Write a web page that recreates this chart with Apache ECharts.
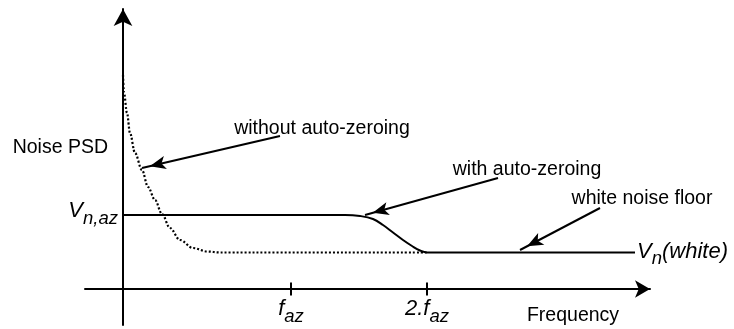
<!DOCTYPE html>
<html>
<head>
<meta charset="utf-8">
<script src="https://cdn.jsdelivr.net/npm/echarts@6/dist/echarts.min.js"></script>
<style>
html,body{margin:0;padding:0;background:#fff;}
#c{width:734px;height:329px;}
</style>
</head>
<body>
<div id="c"></div>
<script>
// ---- data (x: frequency, arbitrary units; y: noise PSD, arbitrary units) ----
const withoutX = [0, 1, 4, 7, 12, 19, 25, 32, 39, 47, 57, 70, 84, 97, 304];
const withoutY = [214, 196, 176, 156, 136, 119, 102, 89, 75, 61, 49, 41, 37.5, 36.5, 36.5];
const withX = [0, 222, 237, 250, 260, 270, 280, 289, 297, 304, 512];
const withY = [74, 74, 73, 70, 64, 56.5, 49, 43, 38.5, 36.5, 36.5];
const xTickValues = [168, 304];
const xTickLabels = ['{i|f}{s|az}', '{i|2.f}{s|az}'];
const yTickValues = [74];
const yTickLabels = ['{i|V}{s|n,az}'];
const whiteLabel = '{i|V}{s|n}{i|(white)}';
const annotations = [
  { text: 'without auto-zeroing', at: [199, 160], tail: [157, 153], tip: [19, 121] },
  { text: 'with auto-zeroing', at: [404, 119], tail: [375, 111], tip: [242, 74] },
  { text: 'white noise floor', at: [519, 90.5], tail: [477, 81], tip: [397, 39] }
];
const freqLabel = { text: 'Frequency', at: [450, -27] };
const axisName = 'Noise PSD';

const FONT = '"Liberation Sans", Arial, Helvetica, sans-serif';
const FS = 19.5;
const rich = {
  i: { fontFamily: FONT, fontSize: 22, fontStyle: 'italic', color: '#000', lineHeight: 24, verticalAlign: 'top' },
  s: { fontFamily: FONT, fontSize: 18.5, fontStyle: 'italic', color: '#000', lineHeight: 18.5, verticalAlign: 'top', padding: [9, 0, 0, 0] }
};

const zip = (xs, ys) => xs.map((x, k) => [x, ys[k]]);
const chart = echarts.init(document.getElementById('c'), null, { renderer: 'canvas' });

const arrowLines = annotations.map(a => [{ coord: a.tail }, { coord: a.tip }]);
const tickLines = xTickValues.map(v => [{ coord: [v, -6.5] }, { coord: [v, 6.5] }]);
const textPoints = annotations.map(a => ({ coord: a.at, value: a.text }))
  .concat([{ coord: freqLabel.at, value: freqLabel.text }]);

chart.setOption({
  animation: false,
  backgroundColor: '#fff',
  grid: { left: 85, right: 84, top: 9, bottom: 4, containLabel: false, outerBoundsMode: 'none' },
  xAxis: {
    type: 'value', min: -38, max: 527,
    splitLine: { show: false }, axisTick: { show: false },
    axisLine: { onZero: true, lineStyle: { color: '#000', width: 2 },
      symbol: ['none', 'arrow'], symbolSize: [13, 15], symbolOffset: [0, 0] },
    axisLabel: {
      customValues: xTickValues, margin: -27,
      formatter: (v) => xTickLabels[xTickValues.indexOf(v)] || '',
      rich: rich
    }
  },
  yAxis: {
    type: 'value', min: -36, max: 280,
    name: axisName, nameLocation: 'middle', nameRotate: 0, nameGap: -23, nameMoveOverlap: false,
    nameTextStyle: { fontFamily: FONT, fontSize: FS, color: '#000', verticalAlign: 'bottom', lineHeight: 38 },
    splitLine: { show: false }, axisTick: { show: false },
    axisLine: { onZero: true, lineStyle: { color: '#000', width: 2 },
      symbol: ['none', 'arrow'], symbolSize: [14, 17], symbolOffset: [0, 0] },
    axisLabel: {
      customValues: yTickValues, margin: -33, padding: [0, 0, 6, 0],
      formatter: (v) => yTickLabels[yTickValues.indexOf(v)] || '',
      rich: rich
    }
  },
  series: [
    {
      name: 'without auto-zeroing', type: 'line', data: zip(withoutX, withoutY),
      smooth: 0.35, smoothMonotone: 'x', showSymbol: false, silent: true,
      lineStyle: { color: '#000', width: 2.2, type: [2, 2] },
      markLine: {
        silent: true, symbol: ['none', 'none'], label: { show: false },
        lineStyle: { color: '#000', width: 2, type: 'solid' },
        data: tickLines
      }
    },
    {
      name: 'with auto-zeroing', type: 'line', data: zip(withX, withY),
      smooth: 0.4, showSymbol: false, silent: true,
      lineStyle: { color: '#000', width: 2, type: 'solid' },
      endLabel: { show: true, distance: 2, formatter: () => whiteLabel, rich: rich },
      markLine: {
        silent: true, symbol: ['none', 'arrow'], symbolSize: [10, 16],
        symbolOffset: [0, [0, 8]],
        label: { show: false },
        lineStyle: { color: '#000', width: 2, type: 'solid' },
        data: arrowLines
      },
      markPoint: {
        silent: true, symbol: 'circle', symbolSize: 1,
        itemStyle: { color: 'rgba(0,0,0,0)' },
        label: { show: true, position: 'inside', formatter: (p) => p.value,
          fontFamily: FONT, fontSize: FS, color: '#000' },
        data: textPoints
      }
    }
  ]
});
</script>
</body>
</html>
